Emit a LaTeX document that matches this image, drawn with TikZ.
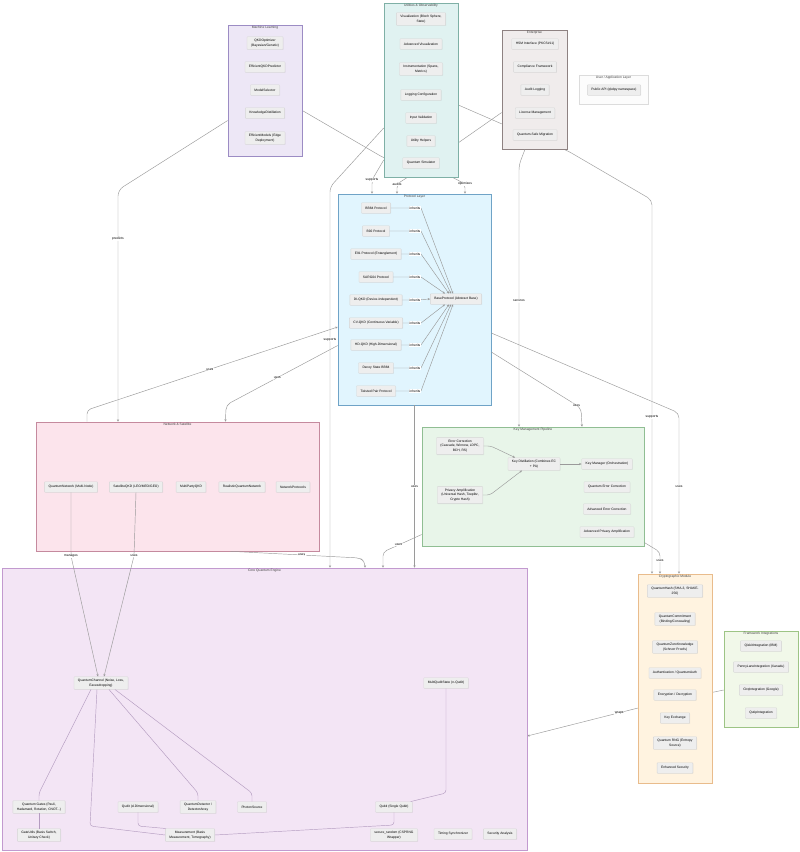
\documentclass[tikz,border=0pt]{standalone}
\usepackage{fontspec}
\setmainfont{Liberation Sans}
\usetikzlibrary{arrows.meta,positioning,shadows}
\definecolor{edgec}{HTML}{9A9A9A}
\definecolor{corel}{HTML}{B49CC0}
\definecolor{boxf}{HTML}{EEEEEE}
\definecolor{boxd}{HTML}{D6D6D6}
\definecolor{mlf}{HTML}{EDE7F6}\definecolor{mld}{HTML}{9C8CC4}
\definecolor{utf}{HTML}{E0F2F1}\definecolor{utd}{HTML}{7FB0A6}
\definecolor{entf}{HTML}{F0ECEC}\definecolor{entd}{HTML}{8E8282}
\definecolor{appf}{HTML}{FCFCFC}\definecolor{appd}{HTML}{DCDCDC}
\definecolor{prf}{HTML}{E1F5FE}\definecolor{prd}{HTML}{6FA3C7}
\definecolor{nwf}{HTML}{FCE4EC}\definecolor{nwd}{HTML}{C58A9E}
\definecolor{kmf}{HTML}{E8F5E9}\definecolor{kmd}{HTML}{90BE93}
\definecolor{crf}{HTML}{FFF3E0}\definecolor{crd}{HTML}{E9BC8C}
\definecolor{fwf}{HTML}{F1F8E9}\definecolor{fwd}{HTML}{9DC485}
\definecolor{cof}{HTML}{F3E5F5}\definecolor{cod}{HTML}{C29ACF}
\newcommand{\ft}{\fontsize{3.3}{4.3}\selectfont}
\pgfdeclarelayer{paper}
\pgfdeclarelayer{under}
\pgfdeclarelayer{clusters}
\pgfsetlayers{paper,under,clusters,main}
\tikzset{
  box/.style={draw=boxd, fill=boxf, rounded corners=0.6pt, font=\ft, align=center,
    inner xsep=4pt, inner ysep=2.6pt, minimum height=10.5pt,
    drop shadow={shadow xshift=0.5pt, shadow yshift=-0.7pt, opacity=0.12}},
  grp/.style={rectangle, line width=0.6pt, inner sep=0pt},
  ttl/.style={font=\ft, text=black!75, anchor=north, inner sep=1.2pt},
  link/.style={draw=edgec, line width=0.45pt, -{Stealth[length=2.4pt,width=2.2pt]}},
  tie/.style={draw=corel, line width=0.45pt},
  lbl/.style={fill=white, font=\ft, inner sep=0.6pt},
}

\begin{document}
\begin{tikzpicture}[x=1pt,y=-1pt]
\begin{pgfonlayer}{paper}
\fill[white] (0,0) rectangle (800,852);
\end{pgfonlayer}
\useasboundingbox (0,0) rectangle (800,852);

% groups
\begin{pgfonlayer}{clusters}
\node[grp, fill=mlf, draw=mld, minimum width=74pt, minimum height=131pt] (ml) at (265,90.5) {};
\node[grp, fill=utf, draw=utd, minimum width=74pt, minimum height=174pt] (util) at (421,90) {};
\node[grp, fill=entf, draw=entd, minimum width=65pt, minimum height=119pt] (ent) at (534.5,89.5) {};
\node[grp, fill=appf, draw=appd, minimum width=69pt, minimum height=29pt] (app) at (613.5,89.5) {};
\node[grp, fill=prf, draw=prd, minimum width=153pt, minimum height=211pt] (proto) at (414.5,299.5) {};
\node[grp, fill=nwf, draw=nwd, minimum width=283pt, minimum height=129pt] (net) at (177.5,486.5) {};
\node[grp, fill=kmf, draw=kmd, minimum width=222pt, minimum height=119pt] (km) at (533,486.5) {};
\node[grp, fill=cof, draw=cod, minimum width=525pt, minimum height=282pt] (core) at (264.5,709) {};
\node[grp, fill=crf, draw=crd, minimum width=74pt, minimum height=209pt] (crypto) at (675,678.5) {};
\node[grp, fill=fwf, draw=fwd, minimum width=74pt, minimum height=96pt] (fw) at (761,679) {};
\node[ttl] (mlT) at (ml.north) {Machine Learning};
\node[ttl] (utilT) at (util.north) {Utilities \& Observability};
\node[ttl] (entT) at (ent.north) {Enterprise};
\node[ttl] (appT) at (app.north) {User / Application Layer};
\node[ttl] (protoT) at (proto.north) {Protocol Layer};
\node[ttl] (netT) at (net.north) {Network \& Satellite};
\node[ttl] (kmT) at (km.north) {Key Management Pipeline};
\node[ttl] (coreT) at (core.north) {Core Quantum Engine};
\node[ttl] (cryptoT) at (crypto.north) {Cryptographic Module};
\node[ttl] (fwT) at (fw.north) {Framework Integrations};
\end{pgfonlayer}

% machine learning
\node[box] (qkdopt) at (265,43) {QKDOptimizer\\(Bayesian/Genetic)};
\node[box] (effpred) at (265,67) {EfficientQKDPredictor};
\node[box] (modsel) at (265,90) {ModelSelector};
\node[box] (kdist) at (265,113) {KnowledgeDistillation};
\node[box] (effmod) at (265,138) {EfficientModels (Edge\\Deployment)};

% utilities
\node[box] (viz) at (421,19) {Visualization (Bloch Sphere,\\State)};
\node[box] (aviz) at (421,44) {Advanced Visualization};
\node[box] (instr) at (421,69) {Instrumentation (Spans,\\Metrics)};
\node[box] (logcfg) at (421,95) {Logging Configuration};
\node[box] (inval) at (421,118) {Input Validation};
\node[box] (uhelp) at (421,141) {Utility Helpers};
\node[box] (qsim) at (421,163) {Quantum Simulator};

% enterprise + app
\node[box] (hsm) at (535,44) {HSM Interface (PKCS\#11)};
\node[box] (compl) at (535,67) {Compliance Framework};
\node[box] (audit) at (535,90) {Audit Logging};
\node[box] (lic) at (535,113) {License Management};
\node[box] (qsm) at (535,135) {Quantum-Safe Migration};
\node[box] (api) at (614,90) {Public API (qkdpy namespace)};

% protocols
\node[box] (bb84) at (376,208) {BB84 Protocol};
\node[box] (b92) at (376,231) {B92 Protocol};
\node[box] (e91) at (376,254) {E91 Protocol (Entanglement)};
\node[box] (sarg) at (376,277) {SARG04 Protocol};
\node[box] (diqkd) at (376,300) {DI-QKD (Device-Independent)};
\node[box] (cvqkd) at (376,323) {CV-QKD (Continuous Variable)};
\node[box] (hdqkd) at (376,345) {HD-QKD (High-Dimensional)};
\node[box] (decoy) at (376,368) {Decoy State BB84};
\node[box] (twist) at (376,391) {Twisted Pair Protocol};
\node[box] (base) at (456,299) {BaseProtocol (Abstract Base)};

% network
\node[box] (qnet) at (71,487) {QuantumNetwork (Multi-Node)};
\node[box] (satq) at (136,487) {SatelliteQKD (LEO/MEO/GEO)};
\node[box] (mparty) at (191,487) {MultiPartyQKD};
\node[box] (rqnet) at (242,487) {RealisticQuantumNetwork};
\node[box] (nproto) at (293,487) {NetworkProtocols};

% key management
\node[box] (ecorr) at (460,446) {Error Correction\\(Cascade, Winnow, LDPC,\\BCH, RS)};
\node[box] (pamp) at (460,495) {Privacy Amplification\\(Universal Hash, Toeplitz,\\Crypto Hash)};
\node[box] (kdis) at (534,464) {Key Distillation (Combines EC\\+ PA)};
\node[box] (kmgr) at (607,464) {Key Manager (Orchestration)};
\node[box] (qec) at (607,487) {Quantum Error Correction};
\node[box] (aec) at (607,509) {Advanced Error Correction};
\node[box] (apa) at (607,532) {Advanced Privacy Amplification};

% crypto
\node[box] (qhash) at (675,591) {QuantumHash (SHA-3, SHAKE-\\256)};
\node[box] (qcom) at (675,619) {QuantumCommitment\\(Binding/Concealing)};
\node[box] (qzk) at (675,647) {QuantumZeroKnowledge\\(Schnorr Proofs)};
\node[box] (qauth) at (675,673) {Authentication / QuantumAuth};
\node[box] (encd) at (675,695) {Encryption / Decryption};
\node[box] (kex) at (675,718) {Key Exchange};
\node[box] (qrng) at (675,743) {Quantum RNG (Entropy\\Source)};
\node[box] (esec) at (675,768) {Enhanced Security};

% frameworks
\node[box] (qiskit) at (761,646) {QiskitIntegration (IBM)};
\node[box] (penny) at (761,667) {PennyLaneIntegration (Xanadu)};
\node[box] (cirq) at (761,690) {CirqIntegration (Google)};
\node[box] (qutip) at (761,713) {QutipIntegration};

% core
\node[box] (chan) at (101,683) {QuantumChannel (Noise, Loss,\\Eavesdropping)};
\node[box] (mqudit) at (446,683) {MultiQuditState (n-Qudit)};
\node[box] (gates) at (39,807) {Quantum Gates (Pauli,\\Hadamard, Rotation, CNOT...)};
\node[box] (gutil) at (39,835) {GateUtils (Basis Switch,\\Unitary Check)};
\node[box] (qudit) at (138,807) {Qudit (d-Dimensional)};
\node[box] (qdet) at (198,807) {QuantumDetector /\\DetectorArray};
\node[box] (phsrc) at (252,807) {PhotonSource};
\node[box] (qubit) at (394,807) {Qubit (Single Qubit)};
\node[box] (meas) at (190,835) {Measurement (Basis\\Measurement, Tomography)};
\node[box] (srand) at (394,835) {secure\_random (CSPRNG\\Wrapper)};
\node[box] (tsync) at (453,834) {Timing Synchronizer};
\node[box] (secan) at (500,834) {Security Analysis};

% links hidden behind groups
\begin{pgfonlayer}{under}
\draw[link, rounded corners=4pt] ([yshift=-20pt]ml.east) -- (384,158) -- (452,177) -- (465,184) node[lbl]{optimizes} -- (proto.north -| 465,0);
\draw[link, rounded corners=4pt] ([yshift=-23pt]ent.west) -- (458,143) -- (408,177) -- (397,184) node[lbl]{audits} -- (proto.north -| 397,0);
\draw[link, rounded corners=5pt] ([yshift=-15pt]util.east) -- (502,124) -- (568,151) -- (652,200) -- node[lbl, pos=0.58]{supports} (crypto.north -| 652,0);
\draw[link, rounded corners=5pt] ([yshift=-11pt]fw.west) -- (638,708) -- node[lbl, pos=0.17]{wraps} ([yshift=-27pt]core.east);
\end{pgfonlayer}

% links between groups
\draw[link, rounded corners=6pt] ([yshift=-30pt]ml.west) -- (118,190) -- node[lbl, pos=0.21]{predicts} (net.north -| 118,0);
\draw[link, rounded corners=4pt] ([xshift=-90.5pt]net.north) -- (87,410) -- node[lbl, pos=0.49]{uses} ([yshift=-27.5pt]proto.west);
\draw[link, rounded corners=5pt] ([yshift=-46pt]proto.west) -- node[lbl, pos=0.54]{uses} (226,405) -- ([xshift=48pt]net.north);
\draw[link, rounded corners=5pt] ([yshift=-38pt]util.west) -- (330,187) -- node[lbl, pos=0.4]{supports} (core.north -| 330,0);
\draw[link, rounded corners=4pt] ([yshift=-70pt]util.west) -- (372,180) node[lbl]{supports} -- (proto.north -| 372,0);
\draw[link, rounded corners=5pt] ([xshift=-9.5pt]ent.south) -- (519,165) -- node[lbl, pos=0.52]{secures} (km.north -| 519,0);
\draw[link, rounded corners=5pt] ([yshift=-52.5pt]proto.east) -- node[lbl, pos=0.95]{uses} (581,408) -- (km.north -| 582,0);
\draw[link, rounded corners=5pt] ([yshift=-33.5pt]proto.east) -- (679,413) -- node[lbl, pos=0.46]{uses} (crypto.north -| 679,0);
\draw[link, rounded corners=4pt] ([yshift=-56pt]km.east) -- (660,552) -- node[lbl, pos=0.4]{uses} (crypto.north -| 660,0);
\draw[link] (proto.south) -- node[lbl, pos=0.5]{uses} (core.north -| 414.5,0);
\draw[link, rounded corners=4pt] ([yshift=-48pt]km.west) -- node[lbl, pos=0.6]{uses} (383,552) -- (core.north -| 383,0);
\draw[link, rounded corners=4pt] ([xshift=53pt]net.south) -- node[lbl, pos=0.55]{uses} (360,558) -- (365,562) -- (core.north -| 365,0);

% inherits
\foreach \p/\dx in {bb84/-3,b92/-5,e91/-7,sarg/-11}{
  \draw[link] (\p.east) -- (\p.east -| 415,0) node[lbl]{inherits} -- (\p.east -| 421,0) -- ([xshift=\dx pt]base.north);
}
\foreach \p/\dx in {cvqkd/-11,hdqkd/-7,decoy/-5,twist/-3}{
  \draw[link] (\p.east) -- (\p.east -| 415,0) node[lbl]{inherits} -- (\p.east -| 421,0) -- ([xshift=\dx pt]base.south);
}
\draw[link] (diqkd.east) -- (diqkd.east -| 415,0) node[lbl]{inherits} -- (base.west);

% key pipeline
\draw[link, rounded corners=3pt] (ecorr.east) -- ++(7,0) -- ([xshift=-19pt]kdis.north);
\draw[link, rounded corners=3pt] (pamp.east) -- ++(7,0) -- ([xshift=-12pt]kdis.south);
\draw[link] (kdis) -- (kmgr);

% into the channel
\draw[link, rounded corners=4pt] (qnet.south) -- (71,556) node[lbl]{manages} -- ([xshift=-3pt]chan.north);
\draw[link, rounded corners=4pt] (satq.south) -- (134,556) node[lbl]{uses} -- ([xshift=3pt]chan.north);

% core ties
\draw[tie, rounded corners=3pt] ([xshift=-10pt]chan.south) -- (39,793) -- (gates.north);
\draw[tie] (gates) -- (gutil);
\draw[tie, rounded corners=3pt] ([xshift=-4pt]chan.south) -- (90,826) -- (meas.west);
\draw[tie, rounded corners=3pt] ([xshift=8pt]chan.south) -- (198,793) -- (qdet.north);
\draw[tie, rounded corners=3pt] ([xshift=14pt]chan.south) -- (252,793) -- (phsrc.north);
\draw[tie, rounded corners=3pt] (qudit.south) -- (138,826) -- ([xshift=-24pt]meas.north);
\draw[tie, rounded corners=3pt] (mqudit.south) -- (446,793) -- ([xshift=-2pt]qubit.north east);
\draw[tie, rounded corners=3pt] (qubit.south) -- (394,825) -- (meas.east);
\end{tikzpicture}
\end{document}
